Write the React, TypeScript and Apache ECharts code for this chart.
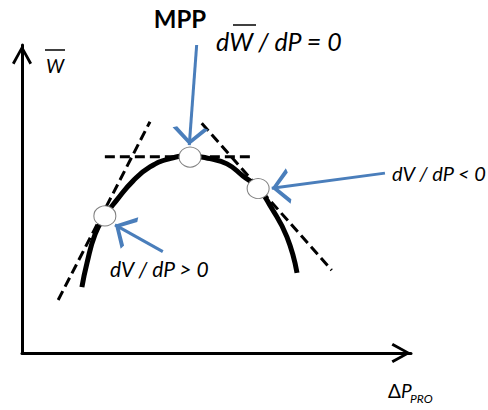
import React, { useEffect, useRef } from "react";
import * as echarts from "echarts";

// Diagram data in a 0-100 x 0-100 space (axis corner = origin)
const curveX = [15.4, 16.7, 18.8, 21.3, 24.4, 28.5, 32.9, 38.0, 43.2, 48.3, 52.7, 56.8, 60.7, 64.0, 68.1, 70.7];
const curveY = [21.4, 29.2, 38.6, 44.5, 49.7, 55.8, 60.4, 63.1, 64.0, 63.1, 61.4, 57.5, 53.6, 47.4, 37.7, 26.0];

const tangentLeft = [[9.3, 17.2], [32.9, 75.1]];
const tangentTop = [[21.3, 63.7], [58.6, 63.7]];
const tangentRight = [[46.2, 74.6], [79.6, 26.9]];

const pointX = [21.3, 43.2, 60.7];
const pointY = [44.5, 63.6, 53.4];

const arrowMPP = [[44.9, 100.0], [43.0, 67.5]];
const arrowRight = [[93.3, 58.4], [64.2, 53.5]];
const arrowLeft = [[36.2, 32.9], [23.9, 41.6]];

const chevron =
  "path://M10,-19.5 L10,-19.5 Z M10,0 L20,18 L17.5,19.5 L10,5.5 L2.5,19.5 L0,18 Z";

const BLUE = "#4A7EBB";
const FONT = "Lato";

export default function App() {
  const ref = useRef<HTMLDivElement>(null);

  useEffect(() => {
    if (!ref.current) return;
    const chart = echarts.init(ref.current, null, { renderer: "svg" });

    const axisCommon = {
      type: "value" as const,
      min: 0,
      max: 100,
      axisLine: {
        show: true,
        symbol: ["none", chevron],
        symbolSize: [20, 39],
        lineStyle: { color: "#000", width: 3 },
      },
      axisTick: { show: false },
      axisLabel: { show: false },
      splitLine: { show: false },
    };

    const dashed = (data: number[][]) => ({
      type: "line",
      data,
      showSymbol: false,
      clip: false,
      z: 2,
      lineStyle: { color: "#000", width: 3, type: [10, 5] },
    });

    const arrow = (coords: number[][]) => ({ coords });

    chart.setOption({
      animation: false,
      backgroundColor: "#fff",
      grid: { left: 22, top: 45, width: 389, height: 308 },
      xAxis: axisCommon,
      yAxis: axisCommon,
      series: [
        dashed(tangentLeft),
        dashed(tangentTop),
        dashed(tangentRight),
        {
          type: "line",
          data: curveX.map((x, i) => [x, curveY[i]]),
          smooth: true,
          showSymbol: false,
          clip: false,
          z: 3,
          lineStyle: { color: "#000", width: 5 },
        },
        {
          type: "scatter",
          data: pointX.map((x, i) => [x, pointY[i]]),
          symbol: "circle",
          symbolSize: [22, 20],
          z: 4,
          itemStyle: { color: "#fff", opacity: 1, borderColor: "#808080", borderWidth: 1 },
        },
        {
          type: "lines",
          coordinateSystem: "cartesian2d",
          clip: false,
          z: 5,
          symbol: ["none", chevron],
          symbolSize: [18, 36],
          lineStyle: { color: BLUE, width: 3, opacity: 1 },
          data: [arrow(arrowMPP), arrow(arrowRight), arrow(arrowLeft)],
        },
      ],
      graphic: [
        {
          type: "text",
          x: 180,
          y: 18,
          style: { text: "MPP", font: `bold 24px ${FONT}`, fill: "#000", align: "center", verticalAlign: "middle" },
        },
        {
          type: "text",
          x: 216,
          y: 41,
          style: { text: "dW / dP = 0", font: `italic 25px ${FONT}`, fill: "#000", align: "left", verticalAlign: "middle" },
        },
        { type: "line", shape: { x1: 233, y1: 25, x2: 256, y2: 25 }, style: { stroke: "#000", lineWidth: 1.5 } },
        {
          type: "text",
          x: 392,
          y: 173,
          style: { text: "dV / dP < 0", font: `italic 20px ${FONT}`, fill: "#000", align: "left", verticalAlign: "middle" },
        },
        {
          type: "text",
          x: 110,
          y: 268,
          style: { text: "dV / dP > 0", font: `italic 21px ${FONT}`, fill: "#000", align: "left", verticalAlign: "middle" },
        },
        {
          type: "text",
          x: 55,
          y: 65,
          style: { text: "W", font: `italic 19px ${FONT}`, fill: "#000", align: "center", verticalAlign: "middle" },
        },
        { type: "line", shape: { x1: 45, y1: 50, x2: 65, y2: 50 }, style: { stroke: "#000", lineWidth: 1.5 } },
        {
          type: "text",
          x: 388,
          y: 390,
          style: {
            text: "{u|Δ}{i|P}",
            align: "left",
            verticalAlign: "middle",
            rich: {
              u: { font: `19px ${FONT}`, fill: "#000" },
              i: { font: `italic 19px ${FONT}`, fill: "#000" },
            },
          },
        },
        {
          type: "text",
          x: 410,
          y: 398,
          style: { text: "PRO", font: `italic 12px ${FONT}`, fill: "#000", align: "left", verticalAlign: "middle" },
        },
      ],
    });

    return () => chart.dispose();
  }, []);

  return (
    <div
      ref={ref}
      style={{ position: "absolute", left: 0, top: 0, width: 488, height: 410 }}
    />
  );
}
